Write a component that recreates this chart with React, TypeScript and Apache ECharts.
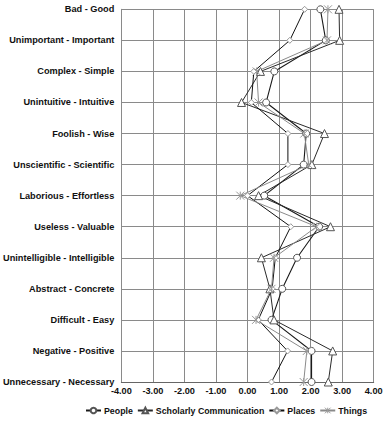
import React, { useEffect, useRef } from "react";
import * as echarts from "echarts";

const categories = [
  "Bad - Good",
  "Unimportant - Important",
  "Complex - Simple",
  "Unintuitive - Intuitive",
  "Foolish - Wise",
  "Unscientific - Scientific",
  "Laborious - Effortless",
  "Useless - Valuable",
  "Unintelligible - Intelligible",
  "Abstract - Concrete",
  "Difficult - Easy",
  "Negative - Positive",
  "Unnecessary - Necessary",
];

const people = [2.31, 2.48, 0.85, 0.59, 1.86, 1.78, 0.53, 2.27, 1.57, 1.1, 0.76, 2.03, 2.03];
const scholarly = [2.9, 2.92, 0.41, -0.19, 2.44, 2.04, 0.35, 2.63, 0.44, 0.71, 0.84, 2.7, 2.56];
const places = [1.81, 1.34, 0.2, 0.12, 1.28, 1.28, 0.0, 1.37, 0.88, 0.78, 0.34, 1.27, 0.76];
const things = [2.55, 2.52, 0.29, 0.35, 1.8, 1.94, -0.23, 2.19, 0.84, 0.76, 0.27, 1.88, 1.78];

const FONT = "'Liberation Sans', Arial, sans-serif";
const ASTERISK = "path://M0,0L10,10M10,0L0,10M5,0L5,10";

export default function App() {
  const ref = useRef<HTMLDivElement>(null);
  useEffect(() => {
    if (!ref.current) return;
    const chart = echarts.init(ref.current, undefined, { renderer: "svg" });
    const mk = (name: string, data: number[], lineColor: string, symbol: string, symColor: string, size: number, lw: number) => ({
      name,
      type: "line",
      data,
      symbol,
      symbolSize: size,
      showSymbol: true,
      lineStyle: { color: lineColor, width: lw },
      itemStyle: {
        color: symbol === ASTERISK ? "transparent" : "#fff",
        borderColor: symColor,
        borderWidth: 1,
      },
      emphasis: { disabled: true },
    });
    chart.setOption({
      animation: false,
      backgroundColor: "#fff",
      grid: { left: 117.7, right: 17.3, top: 9.3, bottom: 41, containLabel: false },
      xAxis: {
        type: "value",
        min: -4,
        max: 4,
        interval: 1,
        axisLine: { show: true, onZero: false, lineStyle: { color: "#666", width: 1 } },
        axisTick: { show: false },
        axisLabel: {
          formatter: (v: number) => v.toFixed(2),
          color: "#111",
          fontFamily: FONT,
          fontSize: 9.2,
          fontWeight: "bold",
          margin: 4,
        },
        splitLine: { show: true, lineStyle: { color: "#8a8a8a", width: 1 } },
      },
      yAxis: {
        type: "category",
        data: categories,
        inverse: true,
        boundaryGap: false,
        axisLine: { show: true, onZero: false, lineStyle: { color: "#8a8a8a", width: 1 } },
        axisTick: { show: false },
        axisLabel: {
          color: "#111",
          fontFamily: FONT,
          fontSize: 9.2,
          fontWeight: "bold",
          margin: 7,
        },
        splitLine: { show: true, lineStyle: { color: "#8a8a8a", width: 1 } },
      },
      legend: {
        top: 406,
        left: 85,
        itemGap: 4,
        itemWidth: 15,
        itemHeight: 7,
        padding: 0,
        textStyle: { color: "#111", fontFamily: FONT, fontSize: 8.8, fontWeight: "bold", padding: [0, 0, 0, -2] },
        data: [
          "People",
          "Scholarly Communication",
          "Places",
          { name: "Things", itemStyle: { color: "transparent", borderColor: "#999", borderWidth: 1 } },
        ],
      },
      series: [
        mk("People", people, "#1a1a1a", "circle", "#555", 7, 1.1),
        mk("Scholarly Communication", scholarly, "#2a2a2a", "triangle", "#555", 8, 1),
        mk("Places", places, "#111", "diamond", "#999", 6, 1),
        mk("Things", things, "#8a8a8a", ASTERISK, "#999", 8, 1),
      ],
    });
    return () => chart.dispose();
  }, []);
  return <div ref={ref} style={{ position: "fixed", left: 0, top: 0, width: 391, height: 423 }} />;
}
